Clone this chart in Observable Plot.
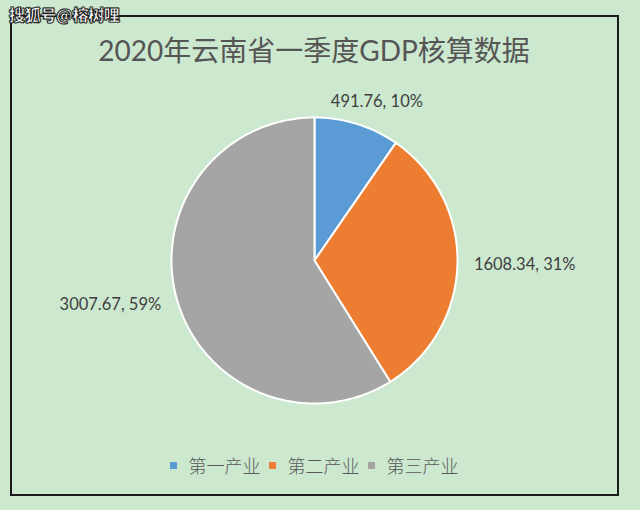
<!DOCTYPE html>
<html>
<head>
<meta charset="utf-8">
<script src="https://cdn.jsdelivr.net/npm/d3@7"></script>
<script src="https://cdn.jsdelivr.net/npm/@observablehq/plot@0.6"></script>
<style>
  html, body { margin: 0; padding: 0; background: #cce8cf; }
  #wrap { position: relative; width: 640px; height: 510px; overflow: hidden; background: #cce8cf; }
  #box { position: absolute; left: 10px; top: 15px; width: 605px; height: 477px; border: 2px solid #1a1a1a; box-sizing: content-box; }
  #title { position: absolute; left: 0; width: 628px; top: 30px; text-align: center; font-family: Lato, "Noto Sans CJK SC", sans-serif; font-size: 28px; color: #555555; line-height: 40px; }
  #wm { position: absolute; left: 9px; top: 3px; font-family: "Noto Sans CJK SC", sans-serif; font-weight: 900; font-size: 16px; color: #fff; -webkit-text-stroke: 0.8px #222; text-shadow: 0 0 1px #000, 0 0 1px #000, 0 0 1px #000; line-height: 22px; letter-spacing: -0.3px; }
  #legend { position: absolute; left: 0; width: 628px; top: 452px; display: flex; justify-content: center; align-items: center; font-family: "Noto Sans CJK SC", sans-serif; font-weight: 300; font-size: 18px; color: #595959; }
  #legend .item { display: flex; align-items: center; margin: 0 4px; }
  #legend .sw { width: 7px; height: 7px; margin-right: 12px; }
  #chart { position: absolute; left: 0; top: 0; }
</style>
</head>
<body>
<div id="wrap">
  <div id="box"></div>
  <div id="chart"></div>
  <div id="title"></div>
  <div id="legend"></div>
  <div id="wm">搜狐号@榕树哩</div>
</div>
<script>
const title = "2020年云南省一季度GDP核算数据";
const categories = ["第一产业", "第二产业", "第三产业"];
const values = [491.76, 1608.34, 3007.67];
const colors = ["#5b9bd5", "#ed7d31", "#a5a5a5"];

document.getElementById("title").textContent = title;

const legend = document.getElementById("legend");
categories.forEach((c, i) => {
  const it = document.createElement("div");
  it.className = "item";
  const sw = document.createElement("div");
  sw.className = "sw";
  sw.style.background = colors[i];
  const t = document.createElement("span");
  t.textContent = c;
  it.appendChild(sw); it.appendChild(t);
  legend.appendChild(it);
});

const total = d3.sum(values);
const arcs = d3.pie().sort(null).value(d => d)(values);

// Slice outlines in unit-radius coordinates (angle measured clockwise from 12 o'clock)
const slicePts = [];
arcs.forEach((a, i) => {
  const n = Math.max(4, Math.ceil((a.endAngle - a.startAngle) / (Math.PI / 180)));
  slicePts.push({cat: categories[i], x: 0, y: 0});
  for (let k = 0; k <= n; k++) {
    const t = a.startAngle + (a.endAngle - a.startAngle) * k / n;
    slicePts.push({cat: categories[i], x: Math.sin(t), y: Math.cos(t)});
  }
  slicePts.push({cat: categories[i], x: 0, y: 0});
});

const labels = arcs.map((a, i) => {
  const mid = (a.startAngle + a.endAngle) / 2;
  const s = Math.sin(mid);
  const anchor = s > 0.7 ? "start" : s < -0.7 ? "end" : "middle";
  const r = anchor === "middle" ? 1.16 : 1.115;
  return {
    x: Math.sin(mid) * r,
    y: Math.cos(mid) * r,
    anchor,
    text: `${values[i]}, ${Math.round(values[i] / total * 100)}%`
  };
});

const R = 143, cx = 314, cy = 260, W = 640, H = 510;

const plot = Plot.plot({
  width: W,
  height: H,
  margin: 0,
  x: {domain: [-cx / R, (W - cx) / R], axis: null},
  y: {domain: [-(H - cy) / R, cy / R], axis: null},
  color: {domain: categories, range: colors},
  style: {background: "transparent"},
  marks: [
    Plot.line(slicePts, {x: "x", y: "y", z: "cat", fill: "cat", stroke: "#ffffff", strokeWidth: 2, strokeLinejoin: "round", curve: "linear"}),
    ...["start", "middle", "end"].map(an =>
      Plot.text(labels.filter(d => d.anchor === an), {
        x: "x", y: "y", text: "text", textAnchor: an,
        dx: an === "middle" ? 13 : 0,
        fontSize: 16.5, fill: "#404040",
        fontFamily: "Lato, 'Noto Sans', sans-serif"
      })
    )
  ]
});
document.getElementById("chart").appendChild(plot);
</script>
</body>
</html>
